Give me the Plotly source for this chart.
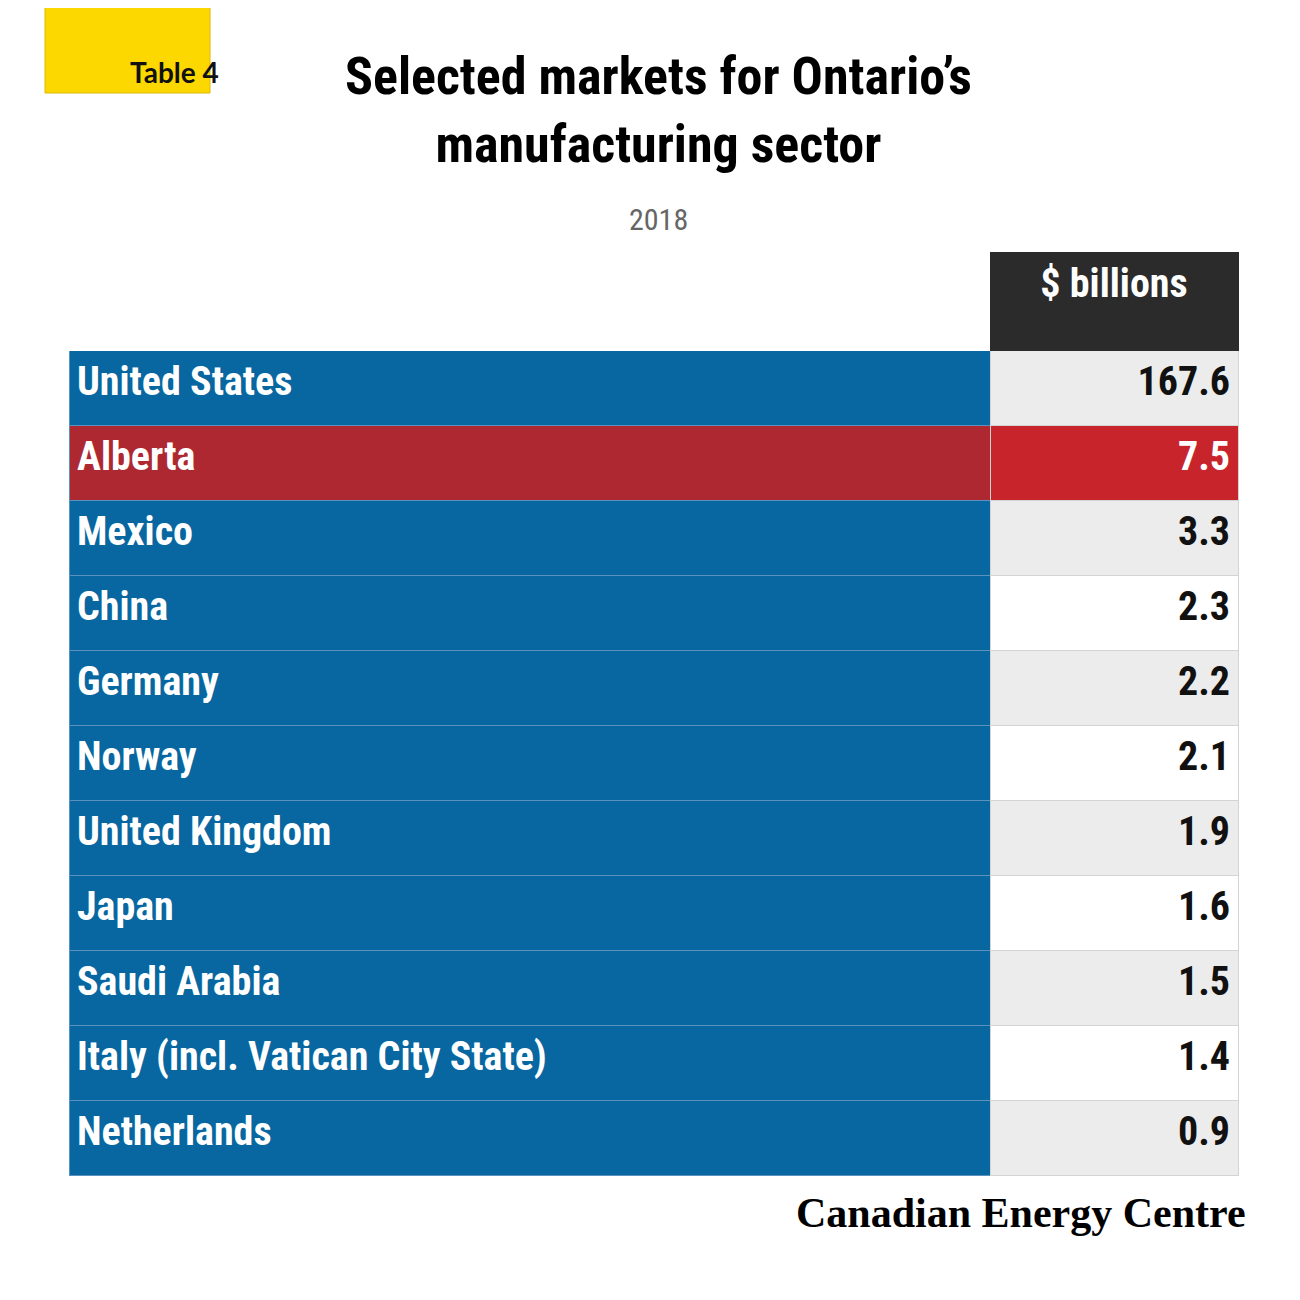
import plotly.graph_objects as go

BLUE = '#0867a0'
RED_DARK = '#ae2831'
RED = '#c8242c'
GREY = '#ececec'
FONT = 'Liberation Sans Narrow, Roboto Condensed, Arial Narrow, sans-serif'

markets = ['United States', 'Alberta', 'Mexico', 'China', 'Germany', 'Norway',
           'United Kingdom', 'Japan', 'Saudi Arabia', 'Italy (incl. Vatican City State)',
           'Netherlands']
values = ['167.6', '7.5', '3.3', '2.3', '2.2', '2.1', '1.9', '1.6', '1.5', '1.4', '0.9']
highlight = 'Alberta'

left_fill = [RED_DARK if m == highlight else BLUE for m in markets]
right_fill = [RED if m == highlight else (GREY if i % 2 == 0 else 'white')
              for i, m in enumerate(markets)]
right_color = ['white' if m == highlight else '#111111' for m in markets]

fig = go.Figure(go.Table(
    domain={'x': [61 / 1300, 1230 / 1300], 'y': [0.05, 1 - 244 / 1300]},
    columnwidth=[921, 248],
    header=dict(
        values=['', '<b>$ billions</b>'],
        fill_color=['white', '#2b2b2b'],
        line_color=['white', '#2b2b2b'],
        font=dict(family=FONT, size=40, color='white'),
        align='center',
        height=98,
    ),
    cells=dict(
        values=[[f'<b>{m}</b>' for m in markets], [f'<b>{v}</b>' for v in values]],
        fill_color=[left_fill, right_fill],
        line=dict(color=['#5a92bd', '#d4d4d4'], width=1),
        font=dict(family=FONT, size=40, color=[['white'] * len(markets), right_color]),
        align=['left', 'right'],
        height=75,
    ),
))

fig.add_shape(type='rect', xref='paper', yref='paper',
              x0=37 / 1300, x1=202 / 1300, y0=1 - 85 / 1300, y1=1.01,
              fillcolor='#fcd800', line=dict(color='#e0b800', width=1))
fig.add_annotation(text='<b>Table 4</b>', x=120 / 1300, y=1 - 45 / 1300,
                   xref='paper', yref='paper', showarrow=False,
                   font=dict(family='Lato, sans-serif', size=28, color='#111'))
fig.add_annotation(text='<b>Selected markets for Ontario’s<br>manufacturing sector</b>',
                   x=0.5, y=1 - 102 / 1300, xref='paper', yref='paper', showarrow=False,
                   font=dict(family=FONT, size=52, color='black'), yanchor='middle')
fig.add_annotation(text='2018', x=0.5, y=1 - 192 / 1300, xref='paper', yref='paper',
                   showarrow=False, font=dict(family=FONT, size=30, color='#666'))
fig.add_annotation(text='<b>Canadian Energy Centre</b>', x=1240 / 1300, y=1 - 1230 / 1300,
                   xref='paper', yref='paper', showarrow=False, xanchor='right',
                   font=dict(family='Liberation Serif, DejaVu Serif, serif', size=42,
                             color='black'))

fig.update_layout(width=1300, height=1300, margin=dict(l=0, r=0, t=0, b=0),
                  paper_bgcolor='white', plot_bgcolor='white')
fig.write_html('out.html')
